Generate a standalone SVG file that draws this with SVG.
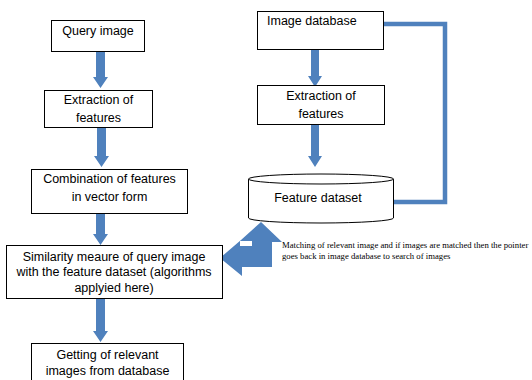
<svg xmlns="http://www.w3.org/2000/svg" width="532" height="380" viewBox="0 0 532 380">
<style>
.box{fill:#fff;stroke:#000;stroke-width:1}
.t{font-family:"Liberation Sans",Arial,sans-serif;font-size:12.5px;fill:#000;text-anchor:middle}
.tl{font-family:"Liberation Sans",Arial,sans-serif;font-size:12.5px;fill:#000}
.note{font-family:"Liberation Serif","Times New Roman",serif;font-size:8.7px;fill:#000}
.blk{fill:#4F81BD}
.ln{fill:none;stroke:#4F81BD;stroke-width:4.5}
</style>
<rect width="532" height="380" fill="#fff"/>
<g id="connectors">
  <!-- left column arrows -->
  <polygon class="blk" points="96,51 105,51 105,77 108,77 100.5,88 93,77 96,77"/>
  <polygon class="blk" points="97,127 106,127 106,156 109,156 101.5,167 94,156 97,156"/>
  <polygon class="blk" points="96,213 105,213 105,234 108,234 100.5,245 93,234 96,234"/>
  <polygon class="blk" points="96,298 105,298 105,331 108,331 100.5,342 93,331 96,331"/>
  <!-- right column arrows -->
  <polygon class="blk" points="311,49 319,49 319,76 322,76 315,87 308,76 311,76"/>
  <polygon class="blk" points="311,124 319,124 319,156 322,156 315,167 308,156 311,156"/>
  <!-- feedback line -->
  <polyline class="ln" points="382,24 445,24 445,202 393,202"/>
  <!-- left-up bent arrow -->
  <polygon class="blk" points="261,222 282,242 272,242 272,267 242,267 242,276 220,258 241,240"/>
  <rect x="240" y="241" width="12" height="5" fill="#fff"/>
</g>
<g id="query-image">
  <rect class="box" x="51.5" y="20.5" width="93" height="31"/>
  <text class="t" x="98" y="35">Query image</text>
</g>
<g id="extraction-left">
  <rect class="box" x="44.5" y="90.5" width="108" height="37"/>
  <text class="t" x="98.5" y="104">Extraction of</text>
  <text class="t" x="98.5" y="122">features</text>
</g>
<g id="combination">
  <rect class="box" x="31.5" y="169.5" width="156" height="44"/>
  <text class="t" x="109.5" y="183">Combination of features</text>
  <text class="t" x="109.5" y="201">in vector form</text>
</g>
<g id="similarity">
  <rect class="box" x="6.5" y="245.5" width="216" height="53"/>
  <text class="t" x="114" y="261">Similarity meaure of query image</text>
  <text class="t" x="114" y="276">with the feature dataset (algorithms</text>
  <text class="t" x="114" y="292">applyied here)</text>
</g>
<g id="getting">
  <rect class="box" x="31.5" y="343.5" width="152" height="40"/>
  <text class="t" x="107.5" y="359">Getting of relevant</text>
  <text class="t" x="107.5" y="375">images from database</text>
</g>
<g id="image-database">
  <rect class="box" x="257.5" y="11.5" width="126" height="38"/>
  <text class="tl" x="267" y="25">Image database</text>
</g>
<g id="extraction-right">
  <rect class="box" x="257.5" y="85.5" width="127" height="39"/>
  <text class="t" x="321" y="100">Extraction of</text>
  <text class="t" x="321" y="118">features</text>
</g>
<g id="feature-dataset">
  <path class="box" d="M248.5,179 L248.5,218 A72.5,5 0 0 0 393.5,218 L393.5,179"/>
  <ellipse class="box" cx="321" cy="179" rx="72.5" ry="5"/>
  <text class="t" x="318" y="202">Feature dataset</text>
</g>
<g id="note">
  <text class="note" x="282" y="248">Matching of relevant image and if images are matched then the pointer</text>
  <text class="note" x="282" y="259">goes back in image database to search of images</text>
</g>
</svg>
